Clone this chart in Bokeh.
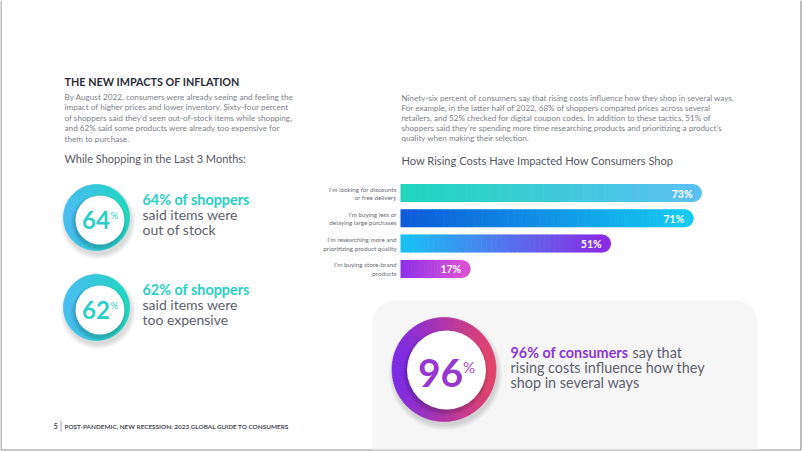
import numpy as np
from bokeh.plotting import figure
from bokeh.models import Range1d
from bokeh.embed import file_html
from bokeh.resources import INLINE
from bokeh.core.properties import value

# ---------------- data ----------------
title = "THE NEW IMPACTS OF INFLATION"
left_paragraph = [
    "By August 2022, consumers were already seeing and feeling the",
    "impact of higher prices and lower inventory. Sixty-four percent",
    "of shoppers said they’d seen out-of-stock items while shopping,",
    "and 62% said some products were already too expensive for",
    "them to purchase.",
]
right_paragraph = [
    "Ninety-six percent of consumers say that rising costs influence how they shop in several ways.",
    "For example, in the latter half of 2022, 68% of shoppers compared prices across several",
    "retailers, and 52% checked for digital coupon codes. In addition to these tactics, 51% of",
    "shoppers said they’re spending more time researching products and prioritizing a product’s",
    "quality when making their selection.",
]
left_subtitle = "While Shopping in the Last 3 Months:"
chart_title = "How Rising Costs Have Impacted How Consumers Shop"

categories = [
    ["I’m looking for discounts", "or free delivery"],
    ["I’m buying less or", "delaying large purchases"],
    ["I’m researching more and", "prioritizing product quality"],
    ["I’m buying store-brand", "products"],
]
values = [73, 71, 51, 17]
value_labels = ["73%", "71%", "51%", "17%"]

stat_values = [64, 62]
stat_heads = ["64% of shoppers", "62% of shoppers"]
stat_lines = [["said items were", "out of stock"], ["said items were", "too expensive"]]

headline_value = 96
headline_bold = "96% of consumers"
headline_rest = ["say that", "rising costs influence how they", "shop in several ways"]

footer_page = "5"
footer_text = "POST-PANDEMIC, NEW RECESSION: 2023 GLOBAL GUIDE TO CONSUMERS"

# ---------------- styles ----------------
FONT = value("Lato")
bar_gradients = [("#1fd5bd", "#5ac0f2"), ("#0b5ad8", "#15c9f2"),
                 ("#16c2f5", "#8a2ce6"), ("#8b2fe8", "#d850d6")]
teal = "#2bcfc6"
purple = "#8a37d9"
gray_text = "#5d616d"
para_gray = "#7d7f88"

W, H = 802, 451


def hex2rgb(h):
    h = h.lstrip("#")
    return np.array([int(h[i:i + 2], 16) for i in (0, 2, 4)], dtype=float)


def mix(c1, c2, t):
    a, b = hex2rgb(c1), hex2rgb(c2)
    t = np.atleast_1d(t)
    out = []
    for tt in t:
        c = a + (b - a) * tt
        out.append("#%02x%02x%02x" % tuple(int(round(v)) for v in c))
    return out


p = figure(width=W, height=H, output_backend="svg", toolbar_location=None,
           x_range=Range1d(0, W), y_range=Range1d(H, 0),
           min_border=0, background_fill_color="white", border_fill_color="white")
p.axis.visible = False
p.grid.visible = False
p.outline_line_color = None


def txt(x, y, t, size, color, style="normal", align="left"):
    p.text(x=[x], y=[y], text=[t], text_font=FONT, text_font_size=value(size),
           text_color=color, text_font_style=style, text_align=align,
           text_baseline="middle")


# ---------------- page border ----------------
p.line(x=[0.5, 0.5, 800.5, 800.5], y=[0, 449.5, 449.5, 0], line_color="#8f9096", line_width=1.2)

# ---------------- gray panel ----------------
def rounded_top_rect(x0, y0, x1, y1, r, n=16):
    xs, ys = [], []
    a = np.linspace(np.pi, 1.5 * np.pi, n)
    xs += list(x0 + r + r * np.cos(a)); ys += list(y0 + r + r * np.sin(a))
    a = np.linspace(1.5 * np.pi, 2 * np.pi, n)
    xs += list(x1 - r + r * np.cos(a)); ys += list(y0 + r + r * np.sin(a))
    xs += [x1, x0]; ys += [y1, y1]
    return xs, ys

px, py = rounded_top_rect(372, 300, 757, 449, 22)
p.patch(px, py, fill_color="#f6f6f7", line_color=None)

# ---------------- texts ----------------
txt(64, 81, title, "10.8px", "#2b2d38", "bold")
for i, line in enumerate(left_paragraph):
    txt(64, 96.5 + 10.4 * i, line, "8.2px", para_gray)
for i, line in enumerate(right_paragraph):
    txt(401, 97 + 10.1 * i, line, "8.1px", para_gray)
txt(64, 158, left_subtitle, "11px", "#55575f")
txt(401, 160, chart_title, "11.1px", "#55575f")

# ---------------- bar chart ----------------
x0 = 400.0
px_per_pct = 4.13
bar_h = 18.0
row_y = [192.5 + 25.3 * i for i in range(len(values))]

for i, v in enumerate(values):
    yc = row_y[i]
    end = x0 + v * px_per_pct
    c1, c2 = bar_gradients[i]
    flat_end = end - bar_h / 2
    p.circle(x=[flat_end], y=[yc], radius=bar_h / 2, fill_color=c2, line_color=None)
    n = 80
    xs = np.linspace(x0, flat_end, n + 1)
    lefts = xs[:-1]
    rights = np.minimum(xs[1:] + 0.6, flat_end)
    cols = mix(c1, c2, np.linspace(0, 1, n))
    p.quad(left=lefts, right=rights, top=yc - bar_h / 2, bottom=yc + bar_h / 2,
           fill_color=cols, line_color=None)
    txt(end - 9.5, yc + 0.5, value_labels[i], "10.5px", "white", "bold", "right")
    txt(396, yc - 4, categories[i][0], "6.3px", "#6a6c74", align="right")
    txt(396, yc + 4.5, categories[i][1], "6.3px", "#6a6c74", align="right")


# ---------------- rings ----------------
def ring(cx, cy, r, icx, icy, ir, c1, c2):
    for k in range(6):
        p.circle(x=[cx + 1.5], y=[cy + 4], radius=r + 0.5 + k * 0.9,
                 fill_color="#000000", fill_alpha=0.025, line_color=None)
    n = 120
    a = np.linspace(0, 2 * np.pi, n + 1)
    st, en = a[:-1], a[1:] + 0.01
    t = (np.cos((st + en) / 2) + 1) / 2
    cols = mix(c1, c2, t)
    p.wedge(x=cx, y=cy, radius=r, start_angle=st, end_angle=en,
            fill_color=cols, line_color=cols, line_width=0.5)
    for k in range(4):
        p.circle(x=[icx - 1], y=[icy + 2.5], radius=ir + 0.5 + k * 1.0,
                 fill_color="#000000", fill_alpha=0.045, line_color=None)
    p.circle(x=[icx], y=[icy], radius=ir, fill_color="white", line_color=None)


stat_y = [217, 307]
for i, sv in enumerate(stat_values):
    cy = stat_y[i]
    ring(96, cy, 33, 99.5, cy + 2.5, 24.5, "#45bdf0", "#20d6c2")
    txt(95.5, cy + 2, str(sv), "24px", teal, "bold", "center")
    txt(110, cy - 2, "%", "9.5px", teal, "normal", "left")
    txt(142, cy - 18, stat_heads[i], "14.4px", teal, "bold")
    txt(142, cy - 3, stat_lines[i][0], "14px", gray_text)
    txt(142, cy + 12, stat_lines[i][1], "14px", gray_text)

ring(443.5, 369, 52, 446, 369.5, 39.5, "#7d2be3", "#e2436c")
txt(440, 372, str(headline_value), "39px", "#9837cf", "bold", "center")
txt(462.5, 366.5, "%", "15px", "#b23fc0", "normal", "left")
txt(510, 352, headline_bold, "14.4px", purple, "bold")
txt(632, 352, headline_rest[0], "14.4px", gray_text)
txt(510, 367, headline_rest[1], "14.4px", gray_text)
txt(510, 382, headline_rest[2], "14.4px", gray_text)

# ---------------- footer ----------------
txt(53, 425.5, footer_page, "7.5px", "#4a4c55", "bold")
p.segment(x0=[60.5], y0=[420], x1=[60.5], y1=[431], line_color="#8a8c94", line_width=0.8)
txt(64, 425.5, footer_text, "6.4px", "#4a4c55", "bold")

open("out.html", "w").write(file_html(p, INLINE))
